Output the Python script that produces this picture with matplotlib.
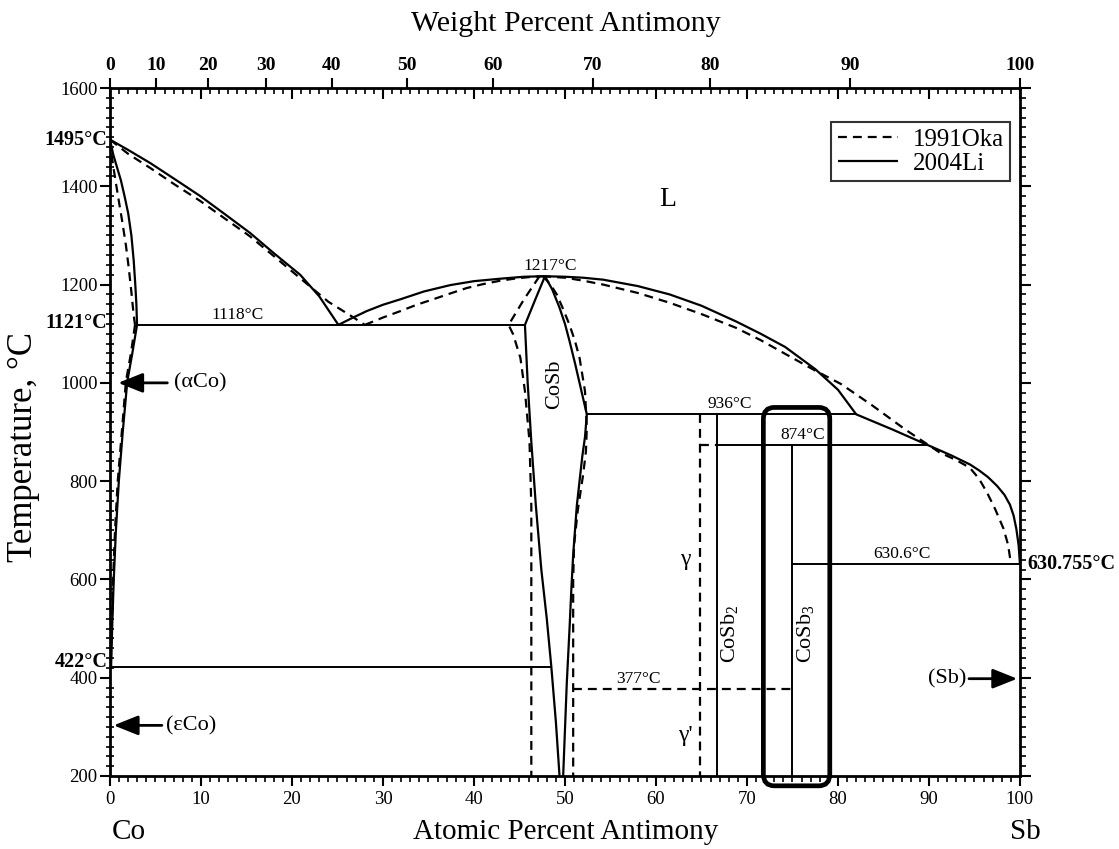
import numpy as np
import matplotlib.pyplot as plt
from matplotlib.lines import Line2D
from matplotlib.patches import FancyBboxPatch
from matplotlib.ticker import NullLocator

plt.rcParams['font.family'] = ['Liberation Serif', 'DejaVu Serif']
plt.rcParams['mathtext.fontset'] = 'custom'
plt.rcParams['mathtext.rm'] = 'Liberation Serif'

M_CO, M_SB = 58.933, 121.76

# ---- 2004Li (solid) ----
liq_co_x = [0, 2.0, 4.45, 7.0, 9.93, 12.5, 15.4, 18.0, 20.9, 23.0, 25.1]
liq_co_t = [1495, 1474, 1447, 1416, 1380, 1345, 1305, 1264, 1220, 1176, 1118]
liq_mid_x = [25.1, 26.5, 28.2, 30.0, 31.9, 34.5, 37.4, 40.0, 42.9, 45.5, 47.8]
liq_mid_t = [1118, 1131, 1146, 1159, 1170, 1186, 1199, 1207, 1212, 1216, 1217]
liq_sb_x = [47.8, 50.0, 52.0, 54.2, 58.0, 61.5, 65.0, 68.8, 71.5, 74.2, 77.5, 80.0, 82.0,
            86.0, 89.8, 92.5, 94.5, 95.5, 96.5, 97.5, 98.3, 98.9, 99.3, 99.6, 99.85, 100]
liq_sb_t = [1217, 1216, 1214, 1210, 1197, 1180, 1157, 1125, 1100, 1073, 1028, 986, 936,
            905, 874, 852, 834, 822, 808, 790, 772, 752, 730, 703, 670, 630.755]
sol_co_x = [0, 0.35, 0.75, 1.2, 1.6, 2.0, 2.35, 2.6, 2.78, 2.9, 2.97]
sol_co_t = [1495, 1465, 1440, 1412, 1380, 1345, 1300, 1250, 1200, 1160, 1118]
solv_co_x = [2.97, 2.45, 1.9, 1.4, 0.97, 0.65, 0.42, 0.25, 0.12]
solv_co_t = [1118, 1060, 1003, 900, 800, 700, 603, 510, 422]
cosb_l_x = [47.8, 46.7, 45.6, 45.9, 46.3, 46.8, 47.4, 48.0, 48.5, 49.0, 49.4]
cosb_l_t = [1217, 1168, 1118, 1000, 880, 750, 620, 520, 422, 310, 200]
cosb_r_x = [47.8, 48.6, 49.4, 50.0, 50.5, 51.1, 51.6, 52.0, 52.4,
            52.2, 51.9, 51.6, 51.3, 51.1, 50.9, 50.7, 50.5, 50.2, 49.8]
cosb_r_t = [1217, 1190, 1153, 1120, 1085, 1040, 1000, 968, 936,
            890, 850, 800, 750, 700, 650, 580, 500, 390, 200]

# ---- 1991Oka (dashed) ----
oka_liq_co_x = [0, 2.0, 4.45, 7.0, 9.93, 12.5, 15.4, 18.0, 20.9, 24.0, 26.6, 28.0]
oka_liq_co_t = [1495, 1466, 1437, 1405, 1370, 1336, 1298, 1258, 1213, 1165, 1135, 1118]
oka_liq_mid_x = [28.0, 30.0, 31.9, 33.7, 35.5, 37.4, 39.2, 41.0, 42.9, 44.8, 46.5, 47.5]
oka_liq_mid_t = [1118, 1133, 1146, 1159, 1170, 1182, 1193, 1201, 1208, 1213, 1216, 1217]
oka_liq_sb_x = [47.5, 50.0, 52.0, 54.2, 58.0, 61.5, 65.0, 68.8, 71.5, 74.3, 77.5, 80.3, 83.7,
                87.4, 91.2, 93.0, 94.5, 95.5, 96.4, 97.3, 98.2, 98.7, 98.9, 99.1]
oka_liq_sb_t = [1217, 1214, 1208, 1200, 1183, 1163, 1140, 1112, 1087, 1058, 1025, 998, 955,
                905, 858, 843, 827, 805, 776, 742, 703, 670, 645, 633]
oka_sol_co_x = [0, 0.2, 0.5, 0.9, 1.34, 1.75, 2.06, 2.35, 2.6, 2.75]
oka_sol_co_t = [1495, 1460, 1424, 1378, 1329, 1280, 1234, 1185, 1138, 1118]
oka_solv_co_x = [2.75, 2.3, 1.75, 1.3, 0.85, 0.55, 0.35, 0.2, 0.08]
oka_solv_co_t = [1118, 1060, 1003, 900, 800, 700, 603, 510, 422]
oka_cosb_l_x = [47.2, 45.5, 43.8, 44.3, 45.1, 45.6, 46.1, 46.3, 46.3]
oka_cosb_l_t = [1217, 1170, 1118, 1099, 1051, 983, 881, 750, 200]
oka_cosb_r_x = [47.6, 48.4, 49.1, 49.8, 50.5, 51.1, 51.6, 52.2, 52.4, 52.3, 52.0, 51.4, 51.0, 50.9, 50.9]
oka_cosb_r_t = [1217, 1200, 1180, 1150, 1118, 1085, 1051, 983, 909, 860, 814, 740, 670, 600, 200]

# invariant reactions: (temperature, x start, x end)
iso_solid = [(1118, 2.97, 45.6), (936, 52.4, 82.0), (874, 66.7, 89.8),
             (630.6, 75.0, 100.0), (422, 0.0, 48.5)]
iso_dashed = [(377, 50.9, 75.0), (874, 64.8, 66.7)]
# line compounds: (x, top, bottom)
comp_solid = [(66.7, 936, 200), (75.0, 874, 200)]
comp_dashed = [(64.8, 936, 200)]


def at_to_wt(a):
    a = np.asarray(a, float)
    with np.errstate(divide='ignore', invalid='ignore'):
        return 100 * a * M_SB / (a * M_SB + (100 - a) * M_CO)


def wt_to_at(w):
    w = np.asarray(w, float)
    with np.errstate(divide='ignore', invalid='ignore'):
        return 100 * (w / M_SB) / (w / M_SB + (100 - w) / M_CO)


fig = plt.figure(figsize=(11.19, 8.49), dpi=100)
ax = fig.add_axes([0.0983, 0.0860, 0.8132, 0.8103])
ax.set_xlim(0, 100)
ax.set_ylim(200, 1600)

lw = 1.6
sk = dict(color='k', lw=lw, solid_capstyle='butt', solid_joinstyle='round')
dk = dict(color='k', lw=lw, ls=(0, (4, 2.7)), dash_joinstyle='round')

for xs, ts in [(liq_co_x, liq_co_t), (liq_mid_x, liq_mid_t), (liq_sb_x, liq_sb_t),
               (sol_co_x, sol_co_t), (solv_co_x, solv_co_t),
               (cosb_l_x, cosb_l_t), (cosb_r_x, cosb_r_t)]:
    ax.plot(xs, ts, **sk)
for xs, ts in [(oka_liq_co_x, oka_liq_co_t), (oka_liq_mid_x, oka_liq_mid_t),
               (oka_liq_sb_x, oka_liq_sb_t), (oka_sol_co_x, oka_sol_co_t),
               (oka_solv_co_x, oka_solv_co_t), (oka_cosb_l_x, oka_cosb_l_t),
               (oka_cosb_r_x, oka_cosb_r_t)]:
    ax.plot(xs, ts, **dk)

for t, x0, x1 in iso_solid:
    ax.plot([x0, x1], [t, t], color='k', lw=1.4)
for t, x0, x1 in iso_dashed:
    ax.plot([x0, x1], [t, t], **dk)
for x, t0, t1 in comp_solid:
    ax.plot([x, x], [t0, t1], color='k', lw=1.4)
for x, t0, t1 in comp_dashed:
    ax.plot([x, x], [t0, t1], **dk)

# highlight around CoSb3
box = FancyBboxPatch((71.8, 180), 7.3, 770, boxstyle='round,pad=0,rounding_size=1.2',
                     mutation_aspect=20, lw=3.4, fill=False, ec='k',
                     clip_on=False, zorder=6)
ax.add_patch(box)

# labels inside the diagram
fs = 12.5
ax.text(14.0, 1122, '1118°C', ha='center', va='bottom', fontsize=fs)
ax.text(48.4, 1222, '1217°C', ha='center', va='bottom', fontsize=fs)
ax.text(68.1, 940, '936°C', ha='center', va='bottom', fontsize=fs)
ax.text(76.1, 878, '874°C', ha='center', va='bottom', fontsize=fs)
ax.text(87.0, 635, '630.6°C', ha='center', va='bottom', fontsize=fs)
ax.text(58.1, 381, '377°C', ha='center', va='bottom', fontsize=fs)
ax.text(61.3, 1374, 'L', ha='center', va='center', fontsize=20)
ax.text(48.9, 998, 'CoSb', ha='center', va='center', rotation=90, fontsize=16)
ax.text(68.2, 490, 'CoSb$_2$', ha='center', va='center', rotation=90, fontsize=16)
ax.text(76.5, 490, 'CoSb$_3$', ha='center', va='center', rotation=90, fontsize=16)
ax.text(63.2, 641, 'γ', ha='center', va='center', fontsize=17)
ax.text(63.2, 283, "γ'", ha='center', va='center', fontsize=17)

arrow = dict(arrowstyle='-|>,head_length=1.0,head_width=0.4', color='k', lw=2,
             mutation_scale=15, shrinkA=0, shrinkB=0)
ax.annotate('', xy=(0.9, 1000), xytext=(6.3, 1000), arrowprops=arrow)
ax.text(7.0, 1000, '(αCo)', ha='left', va='center', fontsize=16)
ax.annotate('', xy=(0.4, 303), xytext=(5.7, 303), arrowprops=arrow)
ax.text(6.2, 303, '(εCo)', ha='left', va='center', fontsize=16)
ax.annotate('', xy=(99.7, 398), xytext=(94.4, 398), arrowprops=arrow)
ax.text(94.1, 398, '(Sb)', ha='right', va='center', fontsize=16)

# special temperatures on the frame
bold = dict(fontsize=14.5, fontweight='bold', va='center')
ax.text(-0.3, 1495, '1495°C', ha='right', **bold)
ax.text(-0.3, 1121, '1121°C', ha='right', **bold)
ax.text(-0.3, 432, '422°C', ha='right', **bold)
ax.text(100.8, 630.755, '630.755°C', ha='left', **bold)

# legend
handles = [Line2D([], [], **dk, label='1991Oka'), Line2D([], [], **sk, label='2004Li')]
leg = ax.legend(handles=handles, loc='upper right', bbox_to_anchor=(0.989, 0.95),
                fontsize=18, frameon=True, fancybox=False, borderaxespad=0,
                handlelength=2.4, handletextpad=0.6, borderpad=0.25, labelspacing=0.05)
leg.get_frame().set_edgecolor('k')
leg.get_frame().set_linewidth(1.5)

# axes and ticks
for s in ax.spines.values():
    s.set_linewidth(2)
ax.set_xticks(range(0, 101, 10))
ax.set_xticks(range(0, 101), minor=True)
ax.set_yticks(range(200, 1601, 200))
ax.set_yticks(range(200, 1601, 20), minor=True)
ax.tick_params(axis='x', which='major', direction='out', length=7, width=1.5, labelsize=13.5, pad=4)
ax.tick_params(axis='x', which='minor', direction='out', length=4, width=1.2)
ax.tick_params(axis='y', which='major', direction='out', length=7, width=1.5, labelsize=13.5, pad=2)
ax.tick_params(axis='y', which='minor', direction='inout', length=6, width=1.2)

top_in = ax.secondary_xaxis('top')
top_in.set_xticks(range(0, 101, 10))
top_in.set_xticks(range(0, 101), minor=True)
top_in.tick_params(which='major', direction='in', length=8, width=1.5, labeltop=False)
top_in.tick_params(which='minor', direction='in', length=4, width=1.2)

top_wt = ax.secondary_xaxis('top', functions=(at_to_wt, wt_to_at))
top_wt.set_xticks(range(0, 101, 10))
top_wt.xaxis.set_minor_locator(NullLocator())
top_wt.tick_params(direction='out', length=7, width=1.5, labelsize=14, pad=3)
for lab in top_wt.get_xticklabels():
    lab.set_fontweight('bold')

right = ax.secondary_yaxis('right')
right.set_yticks(range(200, 1601, 200))
right.set_yticks(range(200, 1601, 20), minor=True)
right.tick_params(which='major', direction='out', length=8, width=1.5, labelright=False)
right.tick_params(which='minor', direction='out', length=4, width=1.2)

fig.text(566 / 1119, 1 - 24 / 849, 'Weight Percent Antimony', ha='center', va='center', fontsize=21.5)
fig.text(566 / 1119, 1 - 832 / 849, 'Atomic Percent Antimony', ha='center', va='center', fontsize=21)
fig.text(129 / 1119, 1 - 832 / 849, 'Co', ha='center', va='center', fontsize=21)
fig.text(1025 / 1119, 1 - 832 / 849, 'Sb', ha='center', va='center', fontsize=21)
fig.text(24 / 1119, 1 - 447 / 849, 'Temperature, °C', ha='center', va='center',
         rotation=90, fontsize=25)

fig.savefig('out.png', dpi=100)
